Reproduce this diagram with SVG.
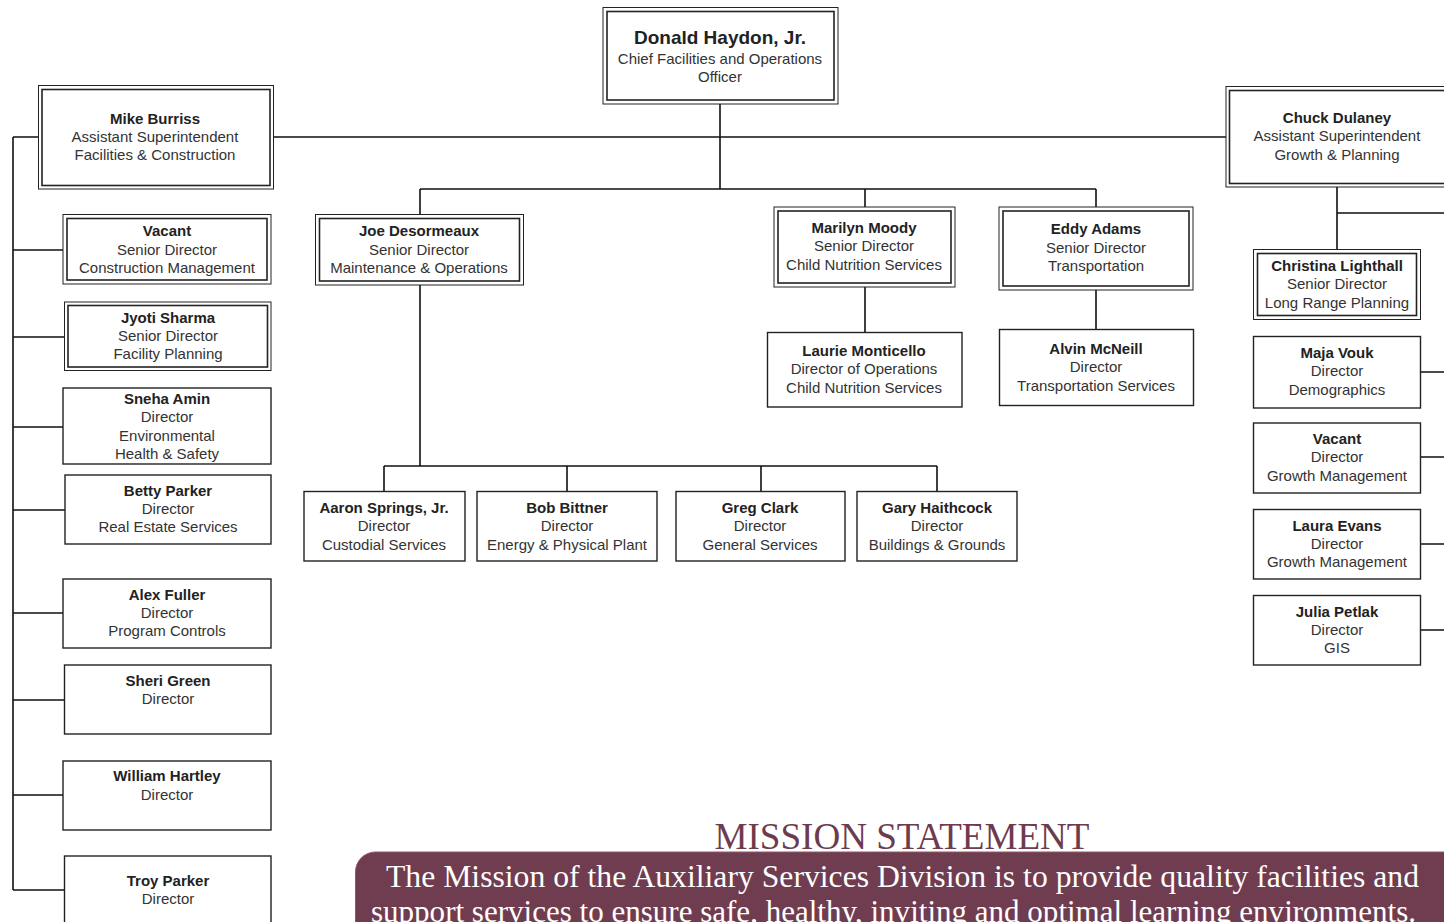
<svg xmlns="http://www.w3.org/2000/svg" width="1444" height="922" viewBox="0 0 1444 922">
<style>
.bg{fill:#ffffff}
.o{fill:#ffffff;stroke:#222;stroke-width:1}
.i{fill:none;stroke:#222;stroke-width:1.6}
.s{fill:#ffffff;stroke:#222;stroke-width:1.4}
.c{fill:none;stroke:#111;stroke-width:1.6}
.t{font-family:"Liberation Sans",Arial,sans-serif;font-size:15px;fill:#333;text-anchor:middle}
.b{font-weight:bold;fill:#222}
.big{font-size:19px}
.ms{font-family:"Liberation Serif","Times New Roman",serif;fill:#6e3b4e;font-size:38px;text-anchor:middle}
.mt{font-family:"Liberation Serif","Times New Roman",serif;fill:#ffffff;font-size:31px}
</style>
<rect class="bg" x="0" y="0" width="1444" height="922"/>
<g id="connectors">
<path class="c" d="M720 104V189M273 137H1226M420 189H1096M420 189V214M865 189V207M1096 189V207"/>
<path class="c" d="M13 137V890M13 137H39M13 250H63M13 337H64M13 427H63M13 510H65M13 613H63M13 700H64M13 795H63M13 890H64"/>
<path class="c" d="M1337 187V249M1337 213H1444M1421 372H1444M1421 457H1444M1421 544H1444M1421 630H1444"/>
<path class="c" d="M420 285V466M384 466H937M384 466V491M567 466V491M761 466V491M937 466V491"/>
<path class="c" d="M865 287V332M1096 290V329"/>
</g>
<g id="donald">
<rect class="o" x="603" y="7.5" width="235" height="96.5"/><rect class="i" x="607" y="11.5" width="227" height="88.5"/>
<text class="t b big" x="720" y="44">Donald Haydon, Jr.</text>
<text class="t" x="720" y="64">Chief Facilities and Operations</text>
<text class="t" x="720" y="82">Officer</text>
</g>
<g id="mike">
<rect class="o" x="38.5" y="85.5" width="235" height="103.5"/><rect class="i" x="42" y="89.5" width="228" height="96"/>
<text class="t b" x="155" y="124">Mike Burriss</text>
<text class="t" x="155" y="142">Assistant Superintendent</text>
<text class="t" x="155" y="160">Facilities &amp; Construction</text>
</g>
<g id="chuck">
<rect class="o" x="1226" y="86.5" width="224" height="100.5"/><rect class="i" x="1229.5" y="90.5" width="220" height="93"/>
<text class="t b" x="1337" y="123">Chuck Dulaney</text>
<text class="t" x="1337" y="141">Assistant Superintendent</text>
<text class="t" x="1337" y="160">Growth &amp; Planning</text>
</g>
<g id="vacant-cm">
<rect class="o" x="63" y="214.5" width="208" height="69.5"/><rect class="i" x="67" y="218.5" width="200" height="61.5"/>
<text class="t b" x="167" y="236">Vacant</text>
<text class="t" x="167" y="255">Senior Director</text>
<text class="t" x="167" y="273">Construction Management</text>
</g>
<g id="jyoti">
<rect class="o" x="64.5" y="302" width="206.5" height="68.5"/><rect class="i" x="68" y="305.5" width="199.5" height="61.5"/>
<text class="t b" x="168" y="323">Jyoti Sharma</text>
<text class="t" x="168" y="341">Senior Director</text>
<text class="t" x="168" y="359">Facility Planning</text>
</g>
<g id="sneha">
<rect class="s" x="63" y="388" width="208" height="76"/>
<text class="t b" x="167" y="404">Sneha Amin</text>
<text class="t" x="167" y="422">Director</text>
<text class="t" x="167" y="441">Environmental</text>
<text class="t" x="167" y="459">Health &amp; Safety</text>
</g>
<g id="betty">
<rect class="s" x="65" y="475" width="206" height="69"/>
<text class="t b" x="168" y="496">Betty Parker</text>
<text class="t" x="168" y="514">Director</text>
<text class="t" x="168" y="532">Real Estate Services</text>
</g>
<g id="alex">
<rect class="s" x="63" y="579" width="208" height="69"/>
<text class="t b" x="167" y="600">Alex Fuller</text>
<text class="t" x="167" y="618">Director</text>
<text class="t" x="167" y="636">Program Controls</text>
</g>
<g id="sheri">
<rect class="s" x="64.5" y="665" width="206.5" height="69"/>
<text class="t b" x="168" y="686">Sheri Green</text>
<text class="t" x="168" y="704">Director</text>
</g>
<g id="william">
<rect class="s" x="63" y="761" width="208" height="69"/>
<text class="t b" x="167" y="781">William Hartley</text>
<text class="t" x="167" y="800">Director</text>
</g>
<g id="troy">
<rect class="s" x="64.5" y="856" width="206.5" height="80"/>
<text class="t b" x="168" y="886">Troy Parker</text>
<text class="t" x="168" y="904">Director</text>
</g>
<g id="joe">
<rect class="o" x="315.5" y="214.5" width="208" height="70.5"/><rect class="i" x="319.5" y="218.5" width="200" height="62.5"/>
<text class="t b" x="419" y="236">Joe Desormeaux</text>
<text class="t" x="419" y="255">Senior Director</text>
<text class="t" x="419" y="273">Maintenance &amp; Operations</text>
</g>
<g id="marilyn">
<rect class="o" x="774" y="207" width="181" height="80"/><rect class="i" x="778" y="211" width="173" height="72"/>
<text class="t b" x="864" y="233">Marilyn Moody</text>
<text class="t" x="864" y="251">Senior Director</text>
<text class="t" x="864" y="270">Child Nutrition Services</text>
</g>
<g id="eddy">
<rect class="o" x="999" y="207" width="194" height="83"/><rect class="i" x="1003" y="211" width="186" height="75"/>
<text class="t b" x="1096" y="234">Eddy Adams</text>
<text class="t" x="1096" y="253">Senior Director</text>
<text class="t" x="1096" y="271">Transportation</text>
</g>
<g id="laurie">
<rect class="s" x="767.5" y="332.5" width="194.5" height="74.5"/>
<text class="t b" x="864" y="356">Laurie Monticello</text>
<text class="t" x="864" y="374">Director of Operations</text>
<text class="t" x="864" y="393">Child Nutrition Services</text>
</g>
<g id="alvin">
<rect class="s" x="999.5" y="329.5" width="194" height="76"/>
<text class="t b" x="1096" y="354">Alvin McNeill</text>
<text class="t" x="1096" y="372">Director</text>
<text class="t" x="1096" y="391">Transportation Services</text>
</g>
<g id="aaron">
<rect class="s" x="304" y="491.5" width="161" height="69.5"/>
<text class="t b" x="384" y="513">Aaron Springs, Jr.</text>
<text class="t" x="384" y="531">Director</text>
<text class="t" x="384" y="550">Custodial Services</text>
</g>
<g id="bob">
<rect class="s" x="477" y="491.5" width="180" height="69.5"/>
<text class="t b" x="567" y="513">Bob Bittner</text>
<text class="t" x="567" y="531">Director</text>
<text class="t" x="567" y="550">Energy &amp; Physical Plant</text>
</g>
<g id="greg">
<rect class="s" x="676" y="491.5" width="169" height="69.5"/>
<text class="t b" x="760" y="513">Greg Clark</text>
<text class="t" x="760" y="531">Director</text>
<text class="t" x="760" y="550">General Services</text>
</g>
<g id="gary">
<rect class="s" x="857" y="491.5" width="160" height="69.5"/>
<text class="t b" x="937" y="513">Gary Haithcock</text>
<text class="t" x="937" y="531">Director</text>
<text class="t" x="937" y="550">Buildings &amp; Grounds</text>
</g>
<g id="christina">
<rect class="o" x="1253.5" y="249.5" width="167" height="70"/><rect class="i" x="1257.5" y="253.5" width="159" height="62"/>
<text class="t b" x="1337" y="271">Christina Lighthall</text>
<text class="t" x="1337" y="289">Senior Director</text>
<text class="t" x="1337" y="308">Long Range Planning</text>
</g>
<g id="maja">
<rect class="s" x="1253.5" y="336.5" width="167" height="71.5"/>
<text class="t b" x="1337" y="358">Maja Vouk</text>
<text class="t" x="1337" y="376">Director</text>
<text class="t" x="1337" y="395">Demographics</text>
</g>
<g id="vacant-gm">
<rect class="s" x="1253.5" y="423" width="167" height="70"/>
<text class="t b" x="1337" y="444">Vacant</text>
<text class="t" x="1337" y="462">Director</text>
<text class="t" x="1337" y="481">Growth Management</text>
</g>
<g id="laura">
<rect class="s" x="1253.5" y="509.5" width="167" height="69.5"/>
<text class="t b" x="1337" y="531">Laura Evans</text>
<text class="t" x="1337" y="549">Director</text>
<text class="t" x="1337" y="567">Growth Management</text>
</g>
<g id="julia">
<rect class="s" x="1253.5" y="595.5" width="167" height="69.5"/>
<text class="t b" x="1337" y="617">Julia Petlak</text>
<text class="t" x="1337" y="635">Director</text>
<text class="t" x="1337" y="653">GIS</text>
</g>
<g id="mission">
<text class="ms" x="902" y="849" textLength="375" lengthAdjust="spacingAndGlyphs">MISSION STATEMENT</text>
<rect x="355.5" y="852" width="1110" height="100" rx="20" ry="20" fill="#6f3d4f" stroke="#8a5a6a" stroke-width="1"/>
<text class="mt" x="386" y="887" textLength="1033" lengthAdjust="spacingAndGlyphs">The Mission of the Auxiliary Services Division is to provide quality facilities and</text>
<text class="mt" x="371" y="922" textLength="1045" lengthAdjust="spacingAndGlyphs">support services to ensure safe, healthy, inviting and optimal learning environments.</text>
</g>
</svg>
